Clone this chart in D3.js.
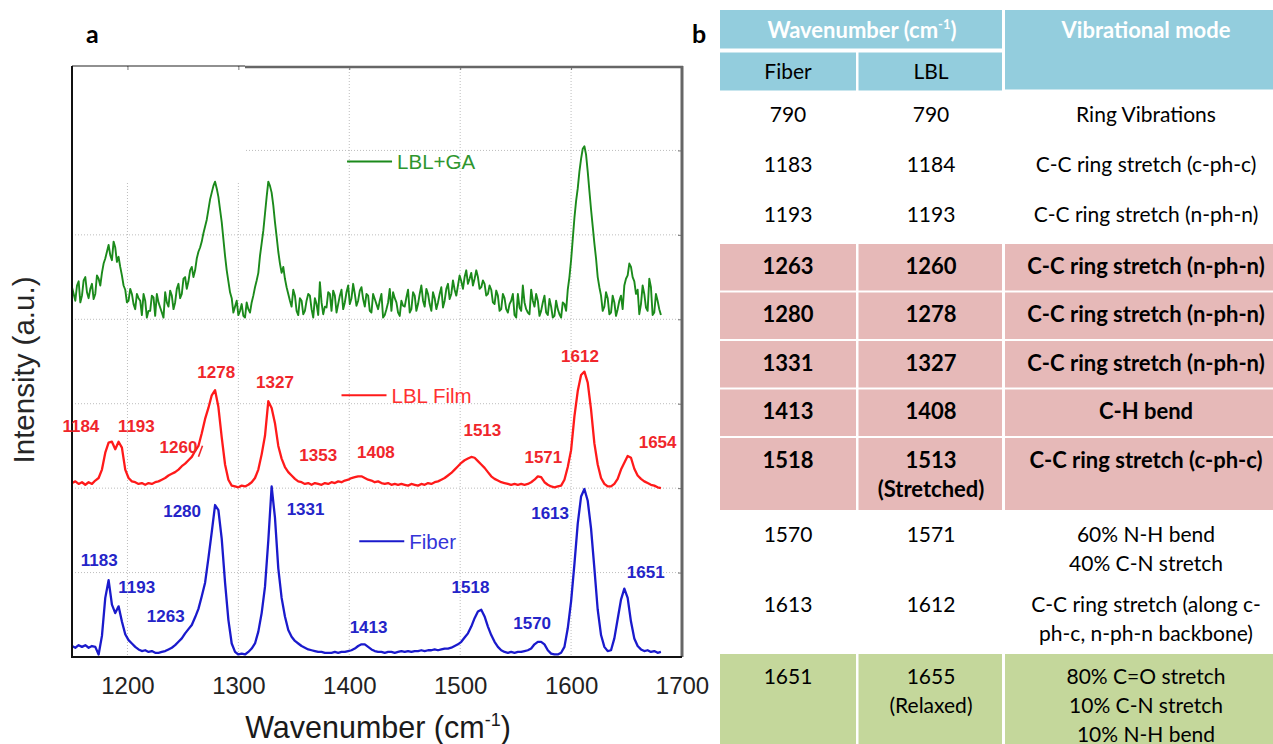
<!DOCTYPE html>
<html><head><meta charset="utf-8">
<script src="https://cdn.jsdelivr.net/npm/d3@7"></script>
<style>body{margin:0;background:#fff} svg{display:block}</style>
</head><body>
<svg id="chart" width="1273" height="744"></svg>
<script>
// ---------- DATA ----------
const wavenumbers = [1150,1153,1156,1159,1162,1165,1168,1171,1174,1177,
1180,1183,1186,1189,1192,1195,1198,1201,1204,1207,
1210,1213,1216,1219,1222,1225,1228,1231,1234,1237,
1240,1243,1246,1249,1252,1255,1258,1261,1264,1267,
1270,1273,1276,1279,1282,1285,1288,1291,1294,1297,
1300,1303,1306,1309,1312,1315,1318,1321,1324,1327,
1330,1333,1336,1339,1342,1345,1348,1351,1354,1357,
1360,1363,1366,1369,1372,1375,1378,1381,1384,1387,
1390,1393,1396,1399,1402,1405,1408,1411,1414,1417,
1420,1423,1426,1429,1432,1435,1438,1441,1444,1447,
1450,1453,1456,1459,1462,1465,1468,1471,1474,1477,
1480,1483,1486,1489,1492,1495,1498,1501,1504,1507,
1510,1513,1516,1519,1522,1525,1528,1531,1534,1537,
1540,1543,1546,1549,1552,1555,1558,1561,1564,1567,
1570,1573,1576,1579,1582,1585,1588,1591,1594,1597,
1600,1603,1606,1609,1612,1615,1618,1621,1624,1627,
1630,1633,1636,1639,1642,1645,1648,1651,1654,1657,
1660,1663,1666,1669,1672,1675,1678,1681];

const fiber = [0.13,0.11,0.14,0.12,0.14,0.11,0.13,0.12,0.03,0.25,
0.70,0.91,0.62,0.52,0.60,0.42,0.27,0.20,0.16,0.12,
0.09,0.07,0.08,0.06,0.07,0.05,0.05,0.06,0.07,0.09,
0.11,0.14,0.18,0.22,0.28,0.33,0.38,0.47,0.57,0.72,
0.88,1.17,1.48,1.80,1.74,1.40,0.88,0.44,0.16,0.06,
0.03,0.04,0.03,0.06,0.10,0.16,0.30,0.52,0.83,1.38,
2.02,1.65,1.05,0.70,0.48,0.32,0.24,0.19,0.16,0.13,
0.11,0.09,0.08,0.07,0.06,0.06,0.05,0.05,0.05,0.06,
0.05,0.06,0.06,0.07,0.08,0.10,0.13,0.15,0.15,0.12,
0.09,0.07,0.06,0.06,0.05,0.06,0.06,0.05,0.06,0.07,
0.06,0.07,0.06,0.07,0.07,0.08,0.07,0.08,0.08,0.09,
0.08,0.09,0.10,0.10,0.11,0.13,0.15,0.18,0.23,0.28,
0.36,0.46,0.54,0.56,0.48,0.36,0.26,0.18,0.12,0.08,
0.06,0.05,0.06,0.05,0.06,0.06,0.07,0.08,0.10,0.15,
0.18,0.18,0.15,0.08,0.04,0.03,0.03,0.05,0.12,0.34,
0.66,1.10,1.58,1.90,1.99,1.85,1.52,1.05,0.56,0.26,
0.12,0.07,0.08,0.22,0.45,0.68,0.81,0.70,0.42,0.22,
0.13,0.09,0.07,0.08,0.06,0.07,0.05,0.06];

const lblFilm = [2.06,2.08,2.05,2.07,2.04,2.07,2.05,2.09,2.12,2.22,
2.42,2.54,2.55,2.46,2.55,2.48,2.22,2.12,2.08,2.07,
2.05,2.06,2.04,2.06,2.05,2.07,2.08,2.10,2.12,2.15,
2.17,2.19,2.22,2.26,2.29,2.33,2.37,2.44,2.50,2.65,
2.82,2.95,3.10,3.16,2.96,2.60,2.28,2.10,2.03,2.02,
2.01,2.03,2.02,2.04,2.07,2.12,2.22,2.40,2.62,3.03,
2.95,2.77,2.50,2.35,2.25,2.19,2.15,2.11,2.08,2.07,
2.05,2.06,2.04,2.06,2.05,2.04,2.06,2.05,2.07,2.06,
2.08,2.07,2.09,2.10,2.12,2.13,2.14,2.14,2.12,2.10,
2.09,2.07,2.08,2.06,2.05,2.06,2.04,2.05,2.04,2.05,
2.04,2.03,2.05,2.04,2.03,2.05,2.04,2.06,2.05,2.07,
2.08,2.10,2.12,2.15,2.18,2.22,2.26,2.30,2.33,2.35,
2.37,2.36,2.32,2.28,2.24,2.19,2.14,2.11,2.09,2.07,
2.06,2.05,2.04,2.05,2.04,2.05,2.04,2.05,2.07,2.10,
2.14,2.13,2.07,2.04,2.02,2.01,2.02,2.03,2.10,2.25,
2.45,2.85,3.15,3.34,3.38,3.25,2.93,2.53,2.28,2.12,
2.05,2.02,2.02,2.05,2.11,2.22,2.30,2.38,2.36,2.23,
2.15,2.11,2.08,2.06,2.04,2.03,2.01,2.00];

const lblGA = [4.38,4.22,4.45,4.28,4.50,4.25,4.42,4.30,4.48,4.55,
4.72,4.88,4.70,4.85,4.74,4.52,4.35,4.22,4.30,4.12,
4.25,4.05,4.22,4.10,4.28,4.04,4.20,4.08,4.32,4.15,
4.28,4.20,4.42,4.30,4.50,4.45,4.62,4.58,4.80,4.92,
5.10,5.30,5.50,5.63,5.45,5.15,4.75,4.45,4.25,4.15,
4.05,4.18,4.02,4.12,4.20,4.38,4.55,4.90,5.25,5.63,
5.50,5.15,4.80,4.55,4.48,4.30,4.15,4.28,4.05,4.22,
4.10,4.30,4.12,4.25,4.05,4.20,4.15,4.32,4.10,4.28,
4.18,4.35,4.20,4.40,4.25,4.30,4.22,4.38,4.15,4.28,
4.08,4.24,4.12,4.30,4.05,4.20,4.10,4.25,4.08,4.22,
4.15,4.35,4.12,4.28,4.18,4.40,4.15,4.30,4.10,4.25,
4.20,4.38,4.22,4.42,4.30,4.35,4.40,4.45,4.50,4.42,
4.55,4.48,4.50,4.38,4.42,4.30,4.35,4.18,4.28,4.12,
4.25,4.08,4.22,4.05,4.30,4.10,4.20,4.08,4.35,4.15,
4.22,4.10,4.28,4.05,4.15,4.04,4.12,4.02,4.18,4.35,
4.70,5.20,5.55,5.90,6.05,5.75,5.30,4.90,4.50,4.28,
4.15,4.25,4.08,4.20,4.12,4.28,4.40,4.52,4.62,4.45,
4.35,4.18,4.30,4.10,4.38,4.08,4.22,4.05];

// extra in-between readings of the noisy LBL+GA trace
const gaMidWavenumbers = [1151.5,1154.5,1157.5,1160.5,1163.5,1166.5,1169.5,1172.5,1175.5,1178.5,
1181.5,1184.5,1187.5,1190.5,1193.5,1196.5,1199.5,1202.5,1205.5,1208.5,
1211.5,1214.5,1217.5,1220.5,1223.5,1226.5,1229.5,1232.5,1235.5,1238.5,
1241.5,1244.5,1247.5,1250.5,1253.5,1256.5,1259.5,1262.5,1265.5,1268.5,
1271.5,1274.5,1277.5,1280.5,1283.5,1286.5,1289.5,1292.5,1295.5,1298.5,
1301.5,1304.5,1307.5,1310.5,1313.5,1316.5,1319.5,1322.5,1325.5,1328.5,
1331.5,1334.5,1337.5,1340.5,1343.5,1346.5,1349.5,1352.5,1355.5,1358.5,
1361.5,1364.5,1367.5,1370.5,1373.5,1376.5,1379.5,1382.5,1385.5,1388.5,
1391.5,1394.5,1397.5,1400.5,1403.5,1406.5,1409.5,1412.5,1415.5,1418.5,
1421.5,1424.5,1427.5,1430.5,1433.5,1436.5,1439.5,1442.5,1445.5,1448.5,
1451.5,1454.5,1457.5,1460.5,1463.5,1466.5,1469.5,1472.5,1475.5,1478.5,
1481.5,1484.5,1487.5,1490.5,1493.5,1496.5,1499.5,1502.5,1505.5,1508.5,
1511.5,1514.5,1517.5,1520.5,1523.5,1526.5,1529.5,1532.5,1535.5,1538.5,
1541.5,1544.5,1547.5,1550.5,1553.5,1556.5,1559.5,1562.5,1565.5,1568.5,
1571.5,1574.5,1577.5,1580.5,1583.5,1586.5,1589.5,1592.5,1595.5,1598.5,
1601.5,1604.5,1607.5,1610.5,1613.5,1616.5,1619.5,1622.5,1625.5,1628.5,
1631.5,1634.5,1637.5,1640.5,1643.5,1646.5,1649.5,1652.5,1655.5,1658.5,
1661.5,1664.5,1667.5,1670.5,1673.5,1676.5,1679.5];
const lblGAMid = [4.30,4.40,4.20,4.46,4.32,4.36,4.24,4.52,4.40,4.66,
4.80,4.76,4.92,4.68,4.62,4.40,4.20,4.36,4.18,4.30,
4.22,4.30,4.02,4.10,4.26,4.30,4.14,4.02,4.20,4.34,
4.12,4.36,4.25,4.48,4.36,4.58,4.50,4.72,4.85,5.02,
5.18,5.42,5.58,5.55,5.30,4.95,4.58,4.32,4.08,4.22,
4.10,4.04,4.20,4.08,4.28,4.46,4.75,5.05,5.45,5.58,
5.35,4.98,4.66,4.62,4.38,4.22,4.35,4.10,4.25,4.06,
4.22,4.28,4.02,4.18,4.44,4.06,4.14,4.30,4.34,4.08,
4.28,4.12,4.32,4.18,4.42,4.16,4.34,4.24,4.30,4.10,
4.30,4.18,4.22,4.02,4.12,4.36,4.32,4.20,4.04,4.16,
4.26,4.08,4.32,4.10,4.30,4.22,4.36,4.18,4.32,4.12,
4.30,4.14,4.36,4.24,4.46,4.28,4.52,4.36,4.58,4.48,
4.40,4.58,4.36,4.46,4.28,4.40,4.20,4.34,4.10,4.30,
4.12,4.18,4.30,4.02,4.14,4.40,4.12,4.06,4.22,4.30,
4.04,4.20,4.08,4.24,4.02,4.22,4.06,4.20,4.10,4.50,
4.95,5.40,5.75,6.02,5.95,5.52,5.10,4.72,4.38,4.10,
4.32,4.06,4.28,4.04,4.22,4.12,4.48,4.66,4.50,4.30,
4.06,4.40,4.14,4.48,4.05,4.30,4.12];

const xTicks = [1200,1300,1400,1500,1600,1700];
const xGrid = [1200,1300,1400,1500,1600];
const yGrid = [1,2,3,4,5,6];

const seriesNames = ["LBL+GA","LBL Film","Fiber"];
const seriesColors = ["#1b8a1b","#ff1a1a","#1a1acc"];
const legendPos = [[1398,5.87],[1393,3.10],[1409,1.37]]; // [wn, intensity] of legend line start

const filmLabels = [["1184",1158,2.74],["1193",1208,2.74],["1260",1246,2.49],["1278",1280,3.38],
  ["1327",1333,3.26],["1353",1372,2.39],["1408",1424,2.43],["1513",1520,2.69],
  ["1571",1575,2.37],["1612",1608,3.57],["1654",1678,2.55]];
const fiberLabels = [["1183",1174.6,1.15],["1193",1208.4,0.83],["1263",1234.5,0.48],["1280",1249.3,1.73],
  ["1331",1360.6,1.75],["1413",1417.4,0.36],["1518",1509.3,0.83],["1570",1564.9,0.40],
  ["1613",1581.1,1.71],["1651",1667.3,1.01]];

// table
const fiberCol = ["790","1183","1193","1263","1280","1331","1413","1518","1570","1613","1651"];
const lblCol = [["790"],["1184"],["1193"],["1260"],["1278"],["1327"],["1408"],["1513","(Stretched)"],["1571"],["1612"],["1655","(Relaxed)"]];
const modeCol = [["Ring Vibrations"],["C-C ring stretch (c-ph-c)"],["C-C ring stretch (n-ph-n)"],
  ["C-C ring stretch (n-ph-n)"],["C-C ring stretch (n-ph-n)"],["C-C ring stretch (n-ph-n)"],["C-H bend"],
  ["C-C ring stretch (c-ph-c)"],["60% N-H bend","40% C-N stretch"],
  ["C-C ring stretch (along c-","ph-c, n-ph-n backbone)"],["80% C=O stretch","10% C-N stretch","10% N-H bend"]];
const rowShade = ["none","none","none","pink","pink","pink","pink","pink","none","none","green"];

// ---------- DRAW ----------
const svg = d3.select("#chart");
const x = d3.scaleLinear().domain([1150,1700]).range([72,682]);
const y = d3.scaleLinear().domain([0,7]).range([657,66]);
const plotFont = "'Liberation Sans', Arial, Helvetica, sans-serif";

// grid
const g = svg.append("g");
g.selectAll(".vg").data(xGrid).join("line")
  .attr("x1",d=>x(d)).attr("x2",d=>x(d)).attr("y1",y(7)).attr("y2",y(0))
  .attr("stroke","#bdbdbd").attr("stroke-width",1).attr("stroke-dasharray","1,2");
g.selectAll(".hg").data(yGrid).join("line")
  .attr("x1",x(1150)).attr("x2",x(1700)).attr("y1",d=>y(d)).attr("y2",d=>y(d))
  .attr("stroke","#bdbdbd").attr("stroke-width",1).attr("stroke-dasharray","1,2");
// white patch at upper-left of the frame (as in the source image)
svg.append("rect").attr("x",73).attr("y",67).attr("width",172).attr("height",115).attr("fill","#fff");

// inner ticks on top and right
svg.append("g").attr("transform",`translate(0,${y(7)})`)
  .call(d3.axisBottom(x).tickValues(xGrid).tickSize(4).tickFormat(""))
  .call(s=>s.select(".domain").remove())
  .call(s=>s.selectAll("line").attr("stroke","#777"));
svg.append("g").attr("transform",`translate(${x(1700)},0)`)
  .call(d3.axisLeft(y).tickValues(yGrid).tickSize(4).tickFormat(""))
  .call(s=>s.select(".domain").remove())
  .call(s=>s.selectAll("line").attr("stroke","#777"));

// spectra
const gaPoints = [];
lblGA.forEach((v,i)=>{
  gaPoints.push([wavenumbers[i],v]);
  if (i < lblGAMid.length) gaPoints.push([gaMidWavenumbers[i],lblGAMid[i]]);
});
const filmPoints = lblFilm.map((v,i)=>[wavenumbers[i],v]);
const fiberPoints = fiber.map((v,i)=>[wavenumbers[i],v]);
const seriesData = [gaPoints, filmPoints, fiberPoints];
const seriesWidth = [1.9, 2.3, 2.3];
const line = d3.line().x(d=>x(d[0])).y(d=>y(d[1]));
svg.append("g").selectAll("path").data(seriesData).join("path")
  .attr("d",line).attr("fill","none")
  .attr("stroke",(d,i)=>seriesColors[i]).attr("stroke-width",(d,i)=>seriesWidth[i]).attr("stroke-linejoin","round");

// frame
svg.append("line").attr("x1",x(1700)).attr("x2",x(1700)).attr("y1",y(7)).attr("y2",y(0)).attr("stroke","#666").attr("stroke-width",3);
svg.append("line").attr("x1",245).attr("x2",x(1700)+1).attr("y1",y(7)+1).attr("y2",y(7)+1).attr("stroke","#666").attr("stroke-width",2.5);
svg.append("line").attr("x1",x(1150)).attr("x2",245).attr("y1",y(7)).attr("y2",y(7)).attr("stroke","#222").attr("stroke-width",1.2);
svg.append("line").attr("x1",x(1150)).attr("x2",x(1150)).attr("y1",y(7)).attr("y2",y(0)+1).attr("stroke","#111").attr("stroke-width",2);
svg.append("line").attr("x1",x(1150)-1).attr("x2",x(1700)).attr("y1",y(0)).attr("y2",y(0)).attr("stroke","#111").attr("stroke-width",2);

// x axis labels
const xa = svg.append("g").attr("transform",`translate(0,${y(0)})`)
  .call(d3.axisBottom(x).tickValues(xTicks).tickSize(0).tickFormat(d3.format("d")));
xa.select(".domain").remove();
xa.selectAll("text").attr("y",37).attr("dy",null)
  .attr("font-family",plotFont).attr("font-size",24).attr("fill","#222");

// axis titles
const xt = svg.append("text").attr("x",378).attr("y",738).attr("text-anchor","middle")
  .attr("font-family",plotFont).attr("font-size",30.5).attr("fill","#1a1a1a");
xt.append("tspan").text("Wavenumber (cm");
xt.append("tspan").text("-1").attr("font-size",18).attr("dy",-12);
xt.append("tspan").text(")").attr("dy",12);
svg.append("text").attr("transform","translate(34,370) rotate(-90)").attr("text-anchor","middle")
  .attr("font-family",plotFont).attr("font-size",29.5).attr("fill","#262626").text("Intensity (a.u.)");

// legends
const leg = svg.append("g").selectAll("g").data(seriesNames).join("g")
  .attr("transform",(d,i)=>`translate(${x(legendPos[i][0])},${y(legendPos[i][1])})`);
leg.append("line").attr("x1",0).attr("x2",45).attr("y1",0).attr("y2",0)
  .attr("stroke",(d,i)=>seriesColors[i]).attr("stroke-width",2);
leg.append("text").attr("x",50).attr("y",8).text(d=>d)
  .attr("font-family",plotFont).attr("font-size",20.5)
  .attr("fill",(d,i)=>["#2e962e","#ff3030","#3434d8"][i]);

// peak labels
function drawLabels(arr,color){
  svg.append("g").selectAll("text").data(arr).join("text")
    .attr("x",d=>x(d[1])).attr("y",d=>y(d[2])+6).attr("text-anchor","middle")
    .attr("font-family",plotFont).attr("font-weight","bold").attr("font-size",17)
    .attr("fill",color).text(d=>d[0]);
}
drawLabels(filmLabels,"#f0262b");
drawLabels(fiberLabels,"#2424c8");
// small pointer after "1260"
svg.append("line").attr("x1",x(1246)+20).attr("y1",y(2.49)+10).attr("x2",x(1246)+24).attr("y2",y(2.49)-1)
  .attr("stroke","#f0262b").attr("stroke-width",1.6);

// panel letters
const panelFont = "Lato, 'Open Sans', sans-serif";
svg.append("text").attr("x",86).attr("y",43).text("a").attr("font-family",panelFont).attr("font-weight",700).attr("font-size",25);
svg.append("text").attr("x",692).attr("y",43).text("b").attr("font-family",panelFont).attr("font-weight",700).attr("font-size",25);

// ---------- TABLE ----------
const tFont = "Lato, 'Open Sans', sans-serif";
const tSize = 21, tBold = 22;
const colX = [[720,856],[858.5,1002],[1005,1290]];
const colC = [788,931,1146];
const hdrBlue = "#93cddd", pink = "#e6b9b8", green = "#c4d79b";
const T = svg.append("g");
T.append("rect").attr("x",720).attr("y",10).attr("width",282).attr("height",38.5).attr("fill",hdrBlue);
T.append("rect").attr("x",720).attr("y",52.5).attr("width",136).attr("height",38).attr("fill",hdrBlue);
T.append("rect").attr("x",858.5).attr("y",52.5).attr("width",143.5).attr("height",38).attr("fill",hdrBlue);
T.append("rect").attr("x",1005).attr("y",10).attr("width",290).attr("height",79.5).attr("fill",hdrBlue);
const h1 = T.append("text").attr("x",862).attr("y",38).attr("text-anchor","middle")
  .attr("font-family",tFont).attr("font-weight",700).attr("font-size",tBold).attr("fill","#fff");
h1.append("tspan").text("Wavenumber (cm");
h1.append("tspan").text("-1").attr("font-size",13).attr("dy",-9);
h1.append("tspan").text(")").attr("dy",9);
T.append("text").attr("x",colC[2]).attr("y",38).attr("text-anchor","middle")
  .attr("font-family",tFont).attr("font-weight",700).attr("font-size",tBold).attr("fill","#fff").text("Vibrational mode");
T.append("text").attr("x",colC[0]).attr("y",79).attr("text-anchor","middle")
  .attr("font-family",tFont).attr("font-size",tSize).text("Fiber");
T.append("text").attr("x",colC[1]).attr("y",79).attr("text-anchor","middle")
  .attr("font-family",tFont).attr("font-size",tSize).text("LBL");

const rowH = [50,50,52,48.5,48.5,48.5,48.5,74,70,72,92];
let rowTop = 91;
const lineGap = 29;
fiberCol.forEach((fv,i)=>{
  const h = rowH[i];
  const shade = rowShade[i];
  const bold = shade==="pink";
  if (shade!=="none"){
    const fill = shade==="pink"?pink:green;
    colX.forEach(c=>{
      T.append("rect").attr("x",c[0]).attr("y",rowTop+1).attr("width",c[1]-c[0]).attr("height",h-2).attr("fill",fill);
    });
  }
  const cells = [[fv],lblCol[i],modeCol[i]];
  cells.forEach((lines,ci)=>{
    lines.forEach((t,li)=>{
      T.append("text").attr("x",colC[ci]).attr("y",rowTop+23+7.5+li*lineGap).attr("text-anchor","middle")
        .attr("font-family",tFont).attr("font-size",bold?tBold:tSize).attr("font-weight",bold?700:400)
        .attr("fill","#000").text(t);
    });
  });
  rowTop += h;
});
</script>
</body></html>
